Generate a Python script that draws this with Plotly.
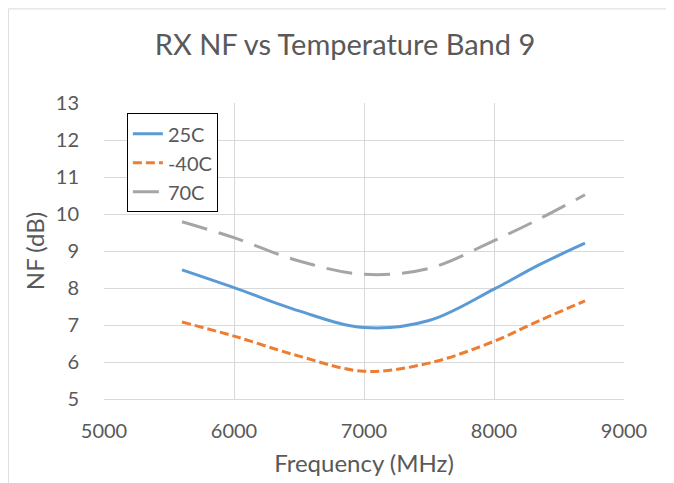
import plotly.graph_objs as go

# frequency points (MHz)
freq = [5600, 6000, 6500, 7000, 7500, 8000, 8350, 8700]

# NF (dB) for each temperature
nf_25c = [8.49, 8.01, 7.38, 6.93, 7.12, 7.97, 8.63, 9.21]
nf_m40c = [7.08, 6.70, 6.16, 5.75, 5.97, 6.56, 7.12, 7.65]
nf_70c = [9.79, 9.36, 8.73, 8.37, 8.53, 9.28, 9.87, 10.52]

font_family = "Lato, 'Open Sans', sans-serif"
text_color = '#595959'
grid_color = '#d9d9d9'

fig = go.Figure()

fig.add_trace(go.Scatter(x=freq, y=nf_25c, name='25C', mode='lines',
                         line=dict(color='#5B9BD5', width=3, shape='spline')))
fig.add_trace(go.Scatter(x=freq, y=nf_m40c, name='-40C', mode='lines',
                         line=dict(color='#ED7D31', width=3, shape='spline',
                                   dash='9px,4px')))
fig.add_trace(go.Scatter(x=freq, y=nf_70c, name='70C', mode='lines',
                         line=dict(color='#A5A5A5', width=3, shape='spline',
                                   dash='26px,12px')))

# axes
fig.update_xaxes(title_text='Frequency (MHz)', range=[5000, 9000], dtick=1000,
                 showgrid=True, gridcolor=grid_color, gridwidth=1,
                 showline=True, linecolor=grid_color, zeroline=False,
                 ticks='', ticklabelstandoff=14,
                 tickfont=dict(size=20, color=text_color),
                 title_font=dict(size=24, color=text_color), title_standoff=14)
fig.update_yaxes(title_text='NF (dB)', range=[5, 13], dtick=1,
                 showgrid=True, gridcolor=grid_color, gridwidth=1,
                 showline=False, zeroline=False,
                 ticks='', ticklabelstandoff=24,
                 tickfont=dict(size=20, color=text_color),
                 title_font=dict(size=24, color=text_color), title_standoff=4)

# light chart-area border (top and left edges only, like the export)
fig.add_shape(type='line', xref='paper', yref='paper',
              x0=-0.184, x1=1.4, y0=1.318, y1=1.318,
              line=dict(color=grid_color, width=1), layer='below')
fig.add_shape(type='line', xref='paper', yref='paper',
              x0=-0.184, x1=-0.184, y0=-0.6, y1=1.318,
              line=dict(color=grid_color, width=1), layer='below')

fig.update_layout(
    title=dict(text='RX NF vs Temperature Band 9', x=0.5, xanchor='center',
               y=0.923, yanchor='middle',
               font=dict(size=29, color=text_color)),
    font=dict(family=font_family, color=text_color),
    width=674, height=483,
    margin=dict(l=96, r=58, t=95, b=92),
    plot_bgcolor='white', paper_bgcolor='white',
    legend=dict(x=0.044, y=0.965, xanchor='left', yanchor='top',
                bgcolor='white', bordercolor='black', borderwidth=1,
                entrywidth=90, entrywidthmode='pixels',
                font=dict(size=20, color=text_color)),
)

fig.write_html("out.html")
